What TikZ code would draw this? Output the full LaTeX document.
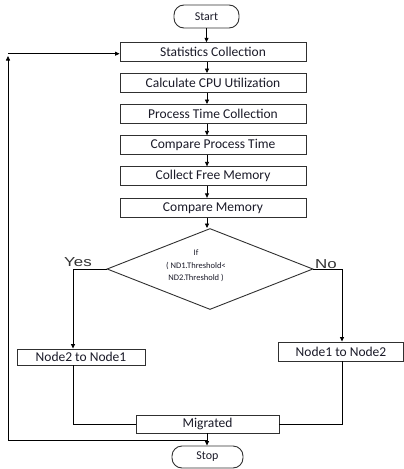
\documentclass[tikz,border=0pt]{standalone}
\usepackage{fontspec}
\setmainfont{Carlito}
\newfontfamily\arialf{Liberation Sans}
\usetikzlibrary{arrows.meta,shapes.geometric,calc}
\definecolor{txt}{HTML}{1a1a28}
\definecolor{edge}{HTML}{303030}
\tikzset{
  procbox/.style={draw=edge,line width=0.9pt,minimum width=186pt,minimum height=19pt,inner sep=0pt,font=\fontsize{13.5}{15}\selectfont,text=txt},
  termbox/.style={draw=edge,line width=0.9pt,rounded corners=10pt,inner sep=0pt,font=\fontsize{12}{14}\selectfont,text=txt},
  sidebox/.style={draw=edge,line width=0.9pt,inner sep=0pt,font=\fontsize{13.5}{15}\selectfont,text=txt},
  conn/.style={draw=black,line width=0.8pt},
  arr/.style={conn,-{Triangle[length=4.5pt,width=4pt]}},
  lbl/.style={inner sep=0pt,font=\arialf\fontsize{13}{15}\selectfont,text=black!80}
}
\begin{document}
\begin{tikzpicture}[x=1pt,y=-1pt]
\useasboundingbox (0,0) rectangle (404,469);
\node[termbox,minimum width=65pt,minimum height=23pt] (start) at (206.5,16.5) {Start};
\node[procbox] (stat) at (213,52.2) {Statistics Collection};
\node[procbox] (cpu) at (213,83) {Calculate CPU Utilization};
\node[procbox] (ptc) at (213,114) {Process Time Collection};
\node[procbox] (cpt) at (213,145.3) {Compare Process Time};
\node[procbox] (cfm) at (213,176.3) {Collect Free Memory};
\node[procbox] (cmem) at (213,207.8) {Compare Memory};
\node[draw=edge,line width=0.9pt,diamond,minimum width=206pt,minimum height=81pt,inner sep=0pt] (dec) at (210,269) {};
\node[align=center,inner sep=0pt,font=\fontsize{8.5}{12.5}\selectfont,text=txt] (dtext) at (196,266) {If\\( ND1.Threshold<\\ND2.Threshold )};
\node[lbl] (yes) at (78,262) {\scalebox{1.3}[1]{Yes}};
\node[lbl] (no) at (326,264) {\scalebox{1.3}[1]{No}};
\node[sidebox,minimum width=128pt,minimum height=16pt] (n21) at (81,357) {Node2 to Node1};
\node[sidebox,minimum width=125pt,minimum height=19pt] (n12) at (341,351.5) {Node1 to Node2};
\node[sidebox,minimum width=143pt,minimum height=18pt] (mig) at (207.5,424) {Migrated};
\node[termbox,minimum width=71pt,minimum height=22pt] (stop) at (207.5,457) {Stop};
% main chain
\coordinate (ax) at (207,0);
\draw[arr] (start.south) -- (start.south |- stat.north);
\draw[arr] (stat.south -| ax) -- (cpu.north -| ax);
\draw[arr] (cpu.south -| ax) -- (ptc.north -| ax);
\draw[arr] (ptc.south -| ax) -- (cpt.north -| ax);
\draw[arr] (cpt.south -| ax) -- (cfm.north -| ax);
\draw[arr] (cfm.south -| ax) -- (cmem.north -| ax);
\draw[arr] (cmem.south -| ax) -- (dec.north -| ax);
% branches
\coordinate (yx) at (73,0);
\coordinate (nx) at (342,0);
\draw[arr] (dec.west) -- (dec.west -| yx) -- (n21.north -| yx);
\draw[arr] (dec.east) -- (dec.east -| nx) -- (n12.north -| nx);
\draw[conn] (n21.south -| yx) -- (mig.west -| yx) -- (mig.west);
\draw[conn] (n12.south -| nx) -- (mig.east -| nx) -- (mig.east);
% to stop and loop
\draw[arr] (mig.south -| ax) -- (stop.north -| ax);
\coordinate (lp) at (207.5,440);
\coordinate (lc) at (8,440);
\coordinate (lt) at (8,56);
\coordinate (lh) at (8,53.7);
\draw[arr] (lp) -- (lc) -- (lt);
\draw[arr] (lh) -- (lh -| stat.west);
\end{tikzpicture}
\end{document}
